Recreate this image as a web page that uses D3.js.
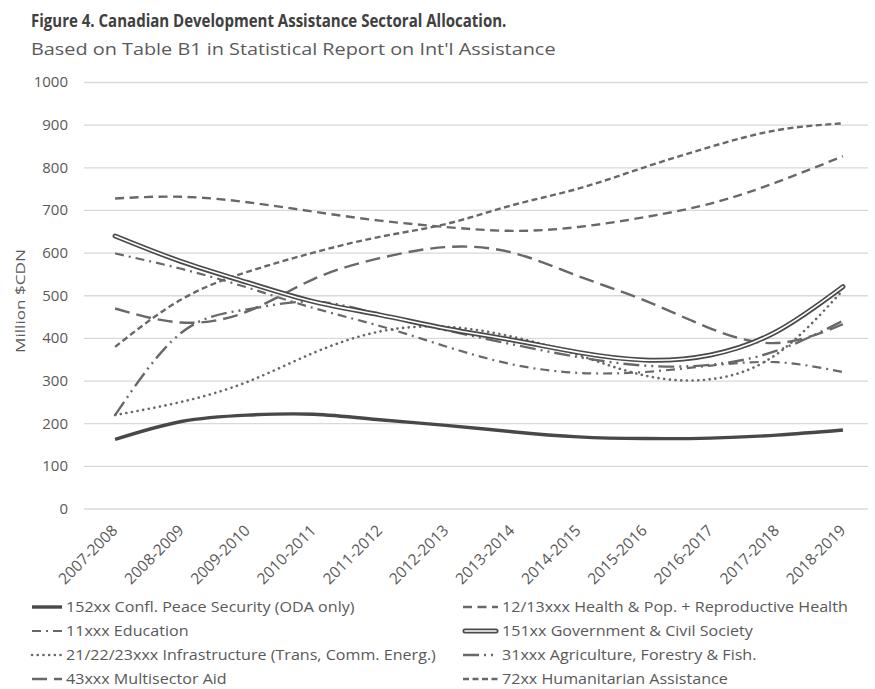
<!DOCTYPE html>
<html><head><meta charset="utf-8">
<script src="https://cdn.jsdelivr.net/npm/d3@7"></script>
<style>body{margin:0;background:#fff} svg{display:block} text{font-family:"Open Sans",sans-serif}</style>
</head><body><svg id="c" width="875" height="689"></svg>
<script>
const categories = ["2007-2008","2008-2009","2009-2010","2010-2011","2011-2012","2012-2013","2013-2014","2014-2015","2015-2016","2016-2017","2017-2018","2018-2019"];
const yTicks = [0,100,200,300,400,500,600,700,800,900,1000];
const seriesNames = [
  "152xx Confl. Peace Security (ODA only)",
  "12/13xxx Health & Pop. + Reproductive Health",
  "11xxx Education",
  "151xx Government & Civil Society",
  "21/22/23xxx Infrastructure (Trans, Comm. Energ.)",
  "31xxx Agriculture, Forestry & Fish.",
  "43xxx Multisector Aid",
  "72xx Humanitarian Assistance"
];
const conflPeace     = [162, 204, 219, 221, 208, 195, 180, 168, 164, 165, 172, 184];
const health         = [727, 731, 718, 696, 675, 660, 651, 660, 683, 715, 765, 826];
const education      = [598, 562, 518, 470, 428, 380, 338, 318, 320, 335, 343, 320];
const government     = [639, 579, 530, 485, 454, 422, 395, 366, 348, 360, 415, 520];
const infrastructure = [219, 250, 297, 365, 415, 426, 403, 360, 312, 303, 362, 512];
const agriculture    = [219, 412, 467, 485, 455, 418, 385, 355, 335, 337, 370, 440];
const multisector    = [469, 436, 462, 538, 587, 613, 600, 545, 488, 422, 388, 432];
const humanitarian   = [379, 490, 555, 600, 637, 667, 711, 750, 800, 848, 887, 903];

const seriesValues = [conflPeace, health, education, government, infrastructure, agriculture, multisector, humanitarian];
const styles = [
  {w:3.4, c:"#484848", dash:null},
  {w:2.4, c:"#686868", dash:"9,5.5"},
  {w:2.2, c:"#686868", dash:"9,5,2,5"},
  {double:true},
  {w:2.6, c:"#686868", dash:"0.1,5.6", cap:"round"},
  {w:2.4, c:"#686868", dash:"16,5,2,5,2,5"},
  {w:2.4, c:"#686868", dash:"15,7"},
  {w:2.4, c:"#686868", dash:"6,3.5"}
];

const svg = d3.select("#c");
const x = d3.scalePoint().domain(categories).range([82, 876]).padding(0.5);
const y = d3.scaleLinear().domain([0, 1000]).range([508.5, 82]);

// horizontally condense a text to a target width (keeps glyph height)
function squeeze(sel, w, pre){
  const l = sel.node().getComputedTextLength();
  const sx = l>0 ? w/l : 1;
  const x0 = +sel.attr("x") || 0;
  sel.attr("transform", (pre||"") + `translate(${x0},0) scale(${sx},1) translate(${-x0},0)`);
  return sx;
}

// title
squeeze(svg.append("text").attr("x",31).attr("y",27).attr("font-size",17.5).attr("font-weight","bold")
  .attr("fill","#404040").text("Figure 4. Canadian Development Assistance Sectoral Allocation."), 476);
squeeze(svg.append("text").attr("x",31).attr("y",55).attr("font-size",17).attr("fill","#5a5a5a")
  .text("Based on Table B1 in Statistical Report on Int'l Assistance"), 525);

// gridlines
const gridRight = 868;
const yAxis = d3.axisLeft(y).tickValues(yTicks).tickSize(-(gridRight-84)).tickPadding(16).tickFormat(d3.format("d"));
const gy = svg.append("g").attr("transform","translate(84,0)").call(yAxis);
gy.select(".domain").remove();
gy.selectAll(".tick line").attr("stroke","#d9d9d9").attr("stroke-width",1.3);
gy.selectAll(".tick text").attr("fill","#595959").attr("font-size",15).attr("font-family","Open Sans, sans-serif");

// y title
squeeze(svg.append("text").attr("text-anchor","middle").attr("x",0).attr("y",0)
  .attr("font-size",13).attr("fill","#595959").text("Million $CDN"), 104, "translate(25,301) rotate(-90) ");

// x labels
const xAxis = d3.axisBottom(x).tickSize(0).tickPadding(0);
const gx = svg.append("g").attr("transform","translate(0,508.5)").call(xAxis);
gx.select(".domain").remove();
gx.selectAll(".tick text").attr("fill","#595959").attr("font-size",15.5).attr("font-family","Open Sans, sans-serif")
  .attr("text-anchor","end").attr("dy",null).attr("y",null)
  .attr("transform","translate(3,23) rotate(-45)");

// lines
const line = d3.line().x((d,i)=>x(categories[i])).y(d=>y(d)).curve(d3.curveNatural);
const order = [0,1,2,4,5,6,7,3];
order.forEach(k=>{
  const s = styles[k], vals = seriesValues[k];
  if (s.double){
    svg.append("path").datum(vals).attr("d",line).attr("fill","none").attr("stroke","#4a4a4a").attr("stroke-width",5).attr("stroke-linecap","round");
    svg.append("path").datum(vals).attr("d",line).attr("fill","none").attr("stroke","#ffffff").attr("stroke-width",1.6).attr("stroke-linecap","round");
  } else {
    svg.append("path").datum(vals).attr("d",line).attr("fill","none").attr("stroke",s.c).attr("stroke-width",s.w)
      .attr("stroke-dasharray",s.dash).attr("stroke-linecap",s.cap||"butt");
  }
});

// legend
const rowsY = [607, 631, 655, 679];
const colX = [[32,62,66],[463,498,502]];
const legTexts = [];
seriesNames.forEach((name,k)=>{
  const col = k%2, row = Math.floor(k/2);
  const [x0,x1,tx] = colX[col]; const yy = rowsY[row];
  const s = styles[k];
  if (s.double){
    svg.append("line").attr("x1",x0+2).attr("x2",x1-2).attr("y1",yy).attr("y2",yy).attr("stroke","#4a4a4a").attr("stroke-width",5).attr("stroke-linecap","round");
    svg.append("line").attr("x1",x0+2).attr("x2",x1-2).attr("y1",yy).attr("y2",yy).attr("stroke","#fff").attr("stroke-width",1.6).attr("stroke-linecap","round");
  } else {
    svg.append("line").attr("x1",x0).attr("x2",x1).attr("y1",yy).attr("y2",yy).attr("stroke",s.c).attr("stroke-width",s.w)
      .attr("stroke-dasharray",s.dash).attr("stroke-linecap",s.cap||"butt");
  }
  legTexts.push(svg.append("text").attr("x",tx).attr("y",yy).attr("dy","0.35em").attr("font-size",14.5).attr("fill","#595959").text(name));
});
const legScale = 346 / legTexts[1].node().getComputedTextLength();
legTexts.forEach(t=>{ const x0 = +t.attr("x"); t.attr("transform",`translate(${x0},0) scale(${legScale},1) translate(${-x0},0)`); });
</script></body></html>
